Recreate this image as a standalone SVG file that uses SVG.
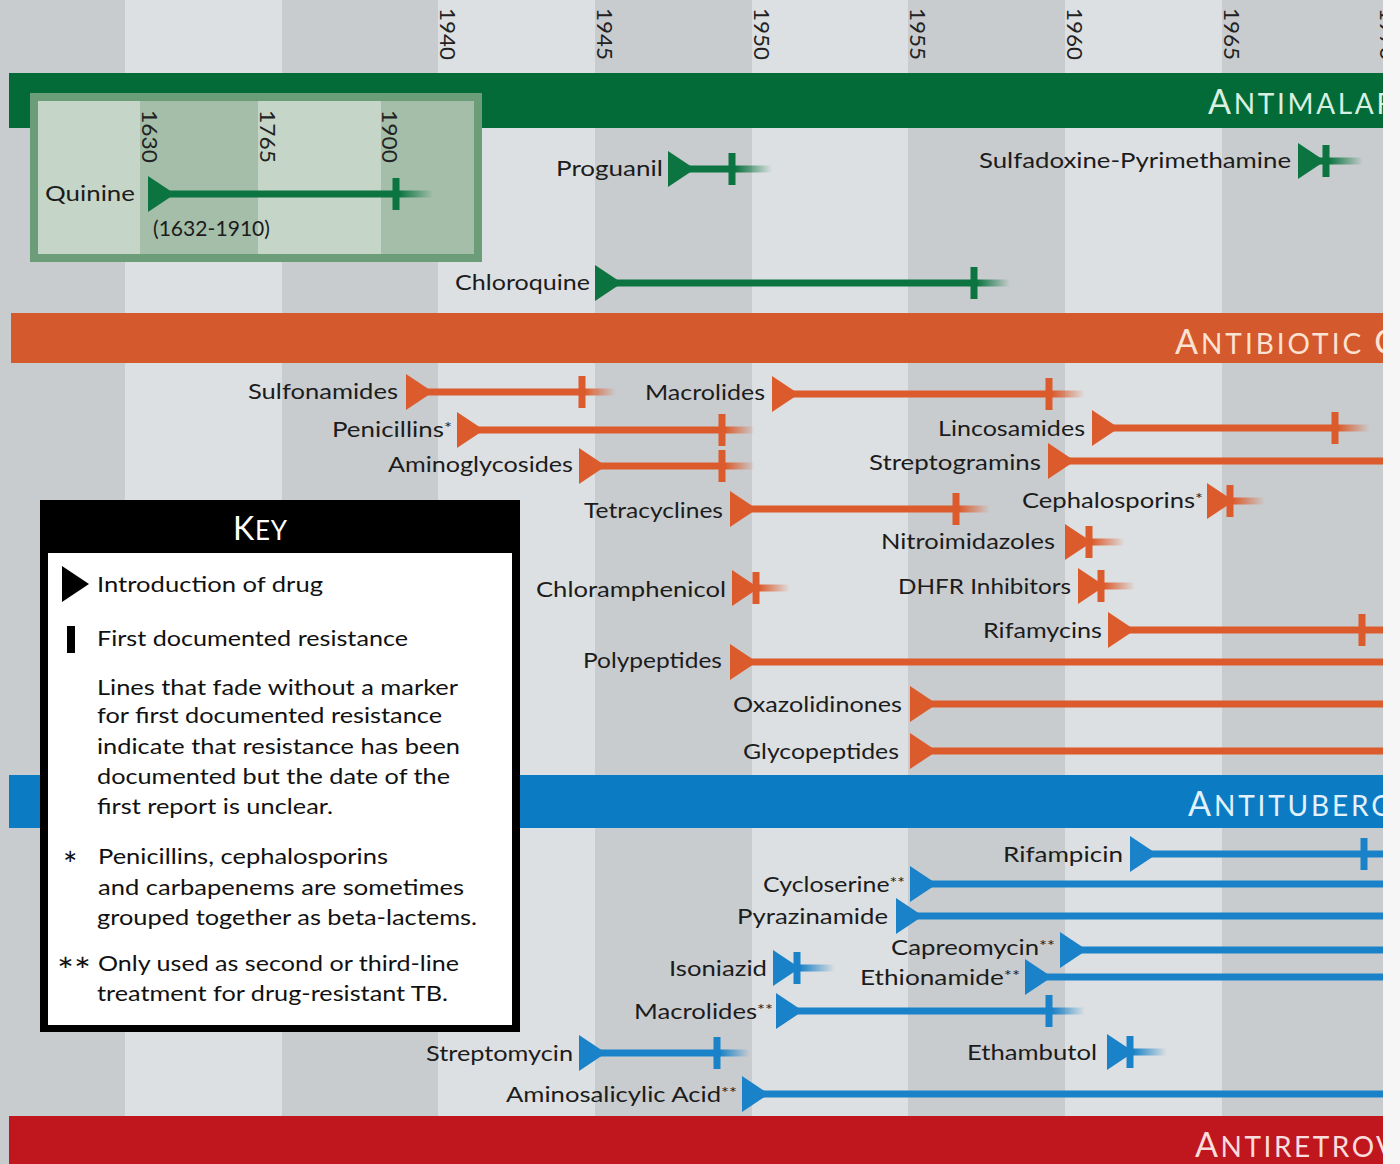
<svg xmlns="http://www.w3.org/2000/svg" xmlns:xlink="http://www.w3.org/1999/xlink" width="1400" height="1164" viewBox="0 0 1400 1164">
<style>
.lbl{font-family:Lato,"Open Sans","Liberation Sans",sans-serif;font-size:22px;fill:#1c1c1c}
.yr{font-family:Lato,"Open Sans","Liberation Sans",sans-serif;font-size:22px;fill:#222}
.ttl{font-family:Lato,"Open Sans","Liberation Sans",sans-serif;font-size:34px}
.key{font-family:Lato,"Open Sans","Liberation Sans",sans-serif;font-size:22px;fill:#111}
.ast{font-family:Lato,"Open Sans","Liberation Sans",sans-serif;font-size:34px;fill:#111}
.g{fill:#0b7440}.o{fill:#dc5b2c}.b{fill:#1a82c8}
.dk{fill:#c9cccf}.lt{fill:#dde0e2}
</style>
<defs>
<clipPath id="cl"><rect x="0" y="0" width="1383" height="1164"/></clipPath>
<path id="tri" d="M0,-18 L27,0 L0,18 Z"/>
<rect id="tick" x="-3.5" y="-16" width="7" height="32"/>
<linearGradient id="fG"><stop offset="0" stop-color="#0b7440"/><stop offset="1" stop-color="#0b7440" stop-opacity="0"/></linearGradient>
<linearGradient id="fO"><stop offset="0" stop-color="#dc5b2c"/><stop offset="1" stop-color="#dc5b2c" stop-opacity="0"/></linearGradient>
<linearGradient id="fB"><stop offset="0" stop-color="#1a82c8"/><stop offset="1" stop-color="#1a82c8" stop-opacity="0"/></linearGradient>
</defs>
<rect x="0" y="0" width="1400" height="1164" fill="#f6f6f6"/>
<g clip-path="url(#cl)">
<g id="stripes">
<rect class="dk" x="0" y="0" width="125" height="1164"/>
<rect class="lt" x="125" y="0" width="157" height="1164"/>
<rect class="dk" x="282" y="0" width="156" height="1164"/>
<rect class="lt" x="438" y="0" width="157" height="1164"/>
<rect class="dk" x="595" y="0" width="157" height="1164"/>
<rect class="lt" x="752" y="0" width="156" height="1164"/>
<rect class="dk" x="908" y="0" width="157" height="1164"/>
<rect class="lt" x="1065" y="0" width="157" height="1164"/>
<rect class="dk" x="1222" y="0" width="161" height="1164"/>
</g>
<g id="years">
<text class="yr" transform="translate(440,8) rotate(90)" textLength="52" lengthAdjust="spacingAndGlyphs">1940</text>
<text class="yr" transform="translate(597,8) rotate(90)" textLength="52" lengthAdjust="spacingAndGlyphs">1945</text>
<text class="yr" transform="translate(754,8) rotate(90)" textLength="52" lengthAdjust="spacingAndGlyphs">1950</text>
<text class="yr" transform="translate(910,8) rotate(90)" textLength="52" lengthAdjust="spacingAndGlyphs">1955</text>
<text class="yr" transform="translate(1067,8) rotate(90)" textLength="52" lengthAdjust="spacingAndGlyphs">1960</text>
<text class="yr" transform="translate(1224,8) rotate(90)" textLength="52" lengthAdjust="spacingAndGlyphs">1965</text>
<text class="yr" transform="translate(1380,8) rotate(90)" textLength="52" lengthAdjust="spacingAndGlyphs">1970</text>
</g>
<g id="band-antimalarials">
<rect x="9" y="73" width="1391" height="55" fill="#036b38"/>
<text class="ttl" x="1208" y="114" fill="#d9efe0" textLength="186" lengthAdjust="spacing">A<tspan font-size="28">NTIMALAR</tspan></text>
</g>
<g id="band-antibiotic">
<rect x="11" y="313" width="1389" height="50" fill="#d4592d"/>
<text class="ttl" x="1175" y="354" fill="#fbe2d2" textLength="222" lengthAdjust="spacing">A<tspan font-size="28">NTIBIOTIC </tspan>C</text>
</g>
<g id="band-antituberculosis">
<rect x="9" y="775" width="1391" height="53" fill="#0b7cc4"/>
<text class="ttl" x="1188" y="816" fill="#e2f1fb" textLength="202" lengthAdjust="spacing">A<tspan font-size="28">NTITUBERC</tspan></text>
</g>
<g id="band-antiretroviral">
<rect x="9" y="1116" width="1391" height="48" fill="#c0161e"/>
<text class="ttl" x="1195" y="1157" fill="#f9dcdc" textLength="200" lengthAdjust="spacing">A<tspan font-size="28">NTIRETROV</tspan></text>
</g>
<g id="quinine-inset">
<rect x="30" y="93" width="452" height="169" fill="#6b9d78"/>
<rect x="38" y="101" width="102" height="153" fill="#c5d6c9"/>
<rect x="140" y="101" width="118" height="153" fill="#a4bea9"/>
<rect x="258" y="101" width="123" height="153" fill="#c5d6c9"/>
<rect x="381" y="101" width="93" height="153" fill="#a4bea9"/>
<text class="yr" transform="translate(142,110) rotate(90)" textLength="53" lengthAdjust="spacingAndGlyphs">1630</text>
<text class="yr" transform="translate(260,110) rotate(90)" textLength="53" lengthAdjust="spacingAndGlyphs">1765</text>
<text class="yr" transform="translate(382,110) rotate(90)" textLength="53" lengthAdjust="spacingAndGlyphs">1900</text>
</g>
<g id="connectors">
<rect class="g" x="158" y="190.5" width="238" height="7"/><rect fill="url(#fG)" x="399" y="190.5" width="34" height="7"/>
<rect class="g" x="678" y="165.5" width="54" height="7"/><rect fill="url(#fG)" x="735" y="165.5" width="37" height="7"/>
<rect class="g" x="1308" y="157.5" width="18" height="7"/><rect fill="url(#fG)" x="1329" y="157.5" width="34" height="7"/>
<rect class="g" x="605" y="279.5" width="369" height="7"/><rect fill="url(#fG)" x="977" y="279.5" width="33" height="7"/>
<rect class="o" x="416" y="388.5" width="166" height="7"/><rect fill="url(#fO)" x="585" y="388.5" width="31" height="7"/>
<rect class="o" x="782" y="390.5" width="267" height="7"/><rect fill="url(#fO)" x="1052" y="390.5" width="33" height="7"/>
<rect class="o" x="467" y="426.5" width="255" height="7"/><rect fill="url(#fO)" x="725" y="426.5" width="30" height="7"/>
<rect class="o" x="1102" y="424.5" width="233" height="7"/><rect fill="url(#fO)" x="1338" y="424.5" width="32" height="7"/>
<rect class="o" x="589" y="462.5" width="133" height="7"/><rect fill="url(#fO)" x="725" y="462.5" width="30" height="7"/>
<rect class="o" x="1058" y="457.5" width="342" height="7"/>
<rect class="o" x="740" y="505.5" width="216" height="7"/><rect fill="url(#fO)" x="959" y="505.5" width="31" height="7"/>
<rect class="o" x="1217" y="497.5" width="13" height="7"/><rect fill="url(#fO)" x="1233" y="497.5" width="32" height="7"/>
<rect class="o" x="1075" y="538.5" width="14" height="7"/><rect fill="url(#fO)" x="1092" y="538.5" width="33" height="7"/>
<rect class="o" x="742" y="584.5" width="14" height="7"/><rect fill="url(#fO)" x="759" y="584.5" width="31" height="7"/>
<rect class="o" x="1088" y="582.5" width="13" height="7"/><rect fill="url(#fO)" x="1104" y="582.5" width="31" height="7"/>
<rect class="o" x="1118" y="626.5" width="282" height="7"/>
<rect class="o" x="740" y="658.5" width="660" height="7"/>
<rect class="o" x="920" y="700.5" width="480" height="7"/>
<rect class="o" x="920" y="747.5" width="480" height="7"/>
<rect class="b" x="1140" y="850.5" width="260" height="7"/>
<rect class="b" x="920" y="880.5" width="480" height="7"/>
<rect class="b" x="906" y="912.5" width="494" height="7"/>
<rect class="b" x="1070" y="946.5" width="330" height="7"/>
<rect class="b" x="783" y="964.5" width="14" height="7"/><rect fill="url(#fB)" x="800" y="964.5" width="35" height="7"/>
<rect class="b" x="1035" y="973.5" width="365" height="7"/>
<rect class="b" x="786" y="1007.5" width="263" height="7"/><rect fill="url(#fB)" x="1052" y="1007.5" width="33" height="7"/>
<rect class="b" x="589" y="1049.5" width="128" height="7"/><rect fill="url(#fB)" x="720" y="1049.5" width="30" height="7"/>
<rect class="b" x="1117" y="1048.5" width="13" height="7"/><rect fill="url(#fB)" x="1133" y="1048.5" width="34" height="7"/>
<rect class="b" x="752" y="1090.5" width="648" height="7"/>
</g>
<g id="quinine"><text class="lbl" x="45" y="201" textLength="90" lengthAdjust="spacingAndGlyphs">Quinine</text><text class="lbl" x="153" y="236" textLength="117" lengthAdjust="spacingAndGlyphs">(1632-1910)</text><use href="#tri" x="148" y="194" class="g"/><use href="#tick" x="396" y="194" class="g"/></g>
<g id="proguanil"><text class="lbl" x="663" y="176" text-anchor="end" textLength="107" lengthAdjust="spacingAndGlyphs">Proguanil</text><use href="#tri" x="668" y="169" class="g"/><use href="#tick" x="732" y="169" class="g"/></g>
<g id="sulfadoxine"><text class="lbl" x="1291" y="168" text-anchor="end" textLength="312" lengthAdjust="spacingAndGlyphs">Sulfadoxine-Pyrimethamine</text><use href="#tri" x="1298" y="161" class="g"/><use href="#tick" x="1326" y="161" class="g"/></g>
<g id="chloroquine"><text class="lbl" x="590" y="290" text-anchor="end" textLength="135" lengthAdjust="spacingAndGlyphs">Chloroquine</text><use href="#tri" x="595" y="283" class="g"/><use href="#tick" x="974" y="283" class="g"/></g>
<g id="sulfonamides"><text class="lbl" x="398" y="399" text-anchor="end" textLength="150" lengthAdjust="spacingAndGlyphs">Sulfonamides</text><use href="#tri" x="406" y="392" class="o"/><use href="#tick" x="582" y="392" class="o"/></g>
<g id="macrolides"><text class="lbl" x="765" y="400" text-anchor="end" textLength="120" lengthAdjust="spacingAndGlyphs">Macrolides</text><use href="#tri" x="772" y="394" class="o"/><use href="#tick" x="1049" y="394" class="o"/></g>
<g id="penicillins"><text class="lbl" x="452" y="437" text-anchor="end" textLength="120" lengthAdjust="spacingAndGlyphs">Penicillins<tspan font-size="16" dy="-4">*</tspan></text><use href="#tri" x="457" y="430" class="o"/><use href="#tick" x="722" y="430" class="o"/></g>
<g id="lincosamides"><text class="lbl" x="1085" y="436" text-anchor="end" textLength="147" lengthAdjust="spacingAndGlyphs">Lincosamides</text><use href="#tri" x="1092" y="428" class="o"/><use href="#tick" x="1335" y="428" class="o"/></g>
<g id="aminoglycosides"><text class="lbl" x="573" y="472" text-anchor="end" textLength="185" lengthAdjust="spacingAndGlyphs">Aminoglycosides</text><use href="#tri" x="579" y="466" class="o"/><use href="#tick" x="722" y="466" class="o"/></g>
<g id="streptogramins"><text class="lbl" x="1041" y="470" text-anchor="end" textLength="172" lengthAdjust="spacingAndGlyphs">Streptogramins</text><use href="#tri" x="1048" y="461" class="o"/></g>
<g id="tetracyclines"><text class="lbl" x="723" y="518" text-anchor="end" textLength="139" lengthAdjust="spacingAndGlyphs">Tetracyclines</text><use href="#tri" x="730" y="509" class="o"/><use href="#tick" x="956" y="509" class="o"/></g>
<g id="cephalosporins"><text class="lbl" x="1203" y="508" text-anchor="end" textLength="181" lengthAdjust="spacingAndGlyphs">Cephalosporins<tspan font-size="16" dy="-4">*</tspan></text><use href="#tri" x="1207" y="501" class="o"/><use href="#tick" x="1230" y="501" class="o"/></g>
<g id="nitroimidazoles"><text class="lbl" x="1055" y="549" text-anchor="end" textLength="174" lengthAdjust="spacingAndGlyphs">Nitroimidazoles</text><use href="#tri" x="1065" y="542" class="o"/><use href="#tick" x="1089" y="542" class="o"/></g>
<g id="chloramphenicol"><text class="lbl" x="726" y="597" text-anchor="end" textLength="190" lengthAdjust="spacingAndGlyphs">Chloramphenicol</text><use href="#tri" x="732" y="588" class="o"/><use href="#tick" x="756" y="588" class="o"/></g>
<g id="dhfr"><text class="lbl" x="1071" y="594" text-anchor="end" textLength="173" lengthAdjust="spacingAndGlyphs">DHFR Inhibitors</text><use href="#tri" x="1078" y="586" class="o"/><use href="#tick" x="1101" y="586" class="o"/></g>
<g id="rifamycins"><text class="lbl" x="1102" y="638" text-anchor="end" textLength="119" lengthAdjust="spacingAndGlyphs">Rifamycins</text><use href="#tri" x="1108" y="630" class="o"/><use href="#tick" x="1362" y="630" class="o"/></g>
<g id="polypeptides"><text class="lbl" x="722" y="668" text-anchor="end" textLength="139" lengthAdjust="spacingAndGlyphs">Polypeptides</text><use href="#tri" x="730" y="662" class="o"/></g>
<g id="oxazolidinones"><text class="lbl" x="902" y="712" text-anchor="end" textLength="169" lengthAdjust="spacingAndGlyphs">Oxazolidinones</text><use href="#tri" x="910" y="704" class="o"/></g>
<g id="glycopeptides"><text class="lbl" x="899" y="759" text-anchor="end" textLength="156" lengthAdjust="spacingAndGlyphs">Glycopeptides</text><use href="#tri" x="910" y="751" class="o"/></g>
<g id="rifampicin"><text class="lbl" x="1123" y="862" text-anchor="end" textLength="120" lengthAdjust="spacingAndGlyphs">Rifampicin</text><use href="#tri" x="1130" y="854" class="b"/><use href="#tick" x="1364" y="854" class="b"/></g>
<g id="cycloserine"><text class="lbl" x="905" y="892" text-anchor="end" textLength="142" lengthAdjust="spacingAndGlyphs">Cycloserine<tspan font-size="16" dy="-4">**</tspan></text><use href="#tri" x="910" y="884" class="b"/></g>
<g id="pyrazinamide"><text class="lbl" x="888" y="924" text-anchor="end" textLength="151" lengthAdjust="spacingAndGlyphs">Pyrazinamide</text><use href="#tri" x="896" y="916" class="b"/></g>
<g id="capreomycin"><text class="lbl" x="1055" y="955" text-anchor="end" textLength="164" lengthAdjust="spacingAndGlyphs">Capreomycin<tspan font-size="16" dy="-4">**</tspan></text><use href="#tri" x="1060" y="950" class="b"/></g>
<g id="isoniazid"><text class="lbl" x="767" y="976" text-anchor="end" textLength="98" lengthAdjust="spacingAndGlyphs">Isoniazid</text><use href="#tri" x="773" y="968" class="b"/><use href="#tick" x="797" y="968" class="b"/></g>
<g id="ethionamide"><text class="lbl" x="1020" y="985" text-anchor="end" textLength="160" lengthAdjust="spacingAndGlyphs">Ethionamide<tspan font-size="16" dy="-4">**</tspan></text><use href="#tri" x="1025" y="977" class="b"/></g>
<g id="macrolides-tb"><text class="lbl" x="773" y="1019" text-anchor="end" textLength="139" lengthAdjust="spacingAndGlyphs">Macrolides<tspan font-size="16" dy="-4">**</tspan></text><use href="#tri" x="776" y="1011" class="b"/><use href="#tick" x="1049" y="1011" class="b"/></g>
<g id="streptomycin"><text class="lbl" x="573" y="1061" text-anchor="end" textLength="147" lengthAdjust="spacingAndGlyphs">Streptomycin</text><use href="#tri" x="579" y="1053" class="b"/><use href="#tick" x="717" y="1053" class="b"/></g>
<g id="ethambutol"><text class="lbl" x="1097" y="1060" text-anchor="end" textLength="130" lengthAdjust="spacingAndGlyphs">Ethambutol</text><use href="#tri" x="1107" y="1052" class="b"/><use href="#tick" x="1130" y="1052" class="b"/></g>
<g id="aminosalicylic"><text class="lbl" x="737" y="1102" text-anchor="end" textLength="231" lengthAdjust="spacingAndGlyphs">Aminosalicylic Acid<tspan font-size="16" dy="-4">**</tspan></text><use href="#tri" x="742" y="1094" class="b"/></g>
<g id="key">
<rect x="40" y="500" width="480" height="532" fill="#000"/>
<rect x="48" y="553" width="464" height="472" fill="#fff"/>
<text x="233" y="540" fill="#fff" font-family="Lato,'Open Sans',sans-serif" font-size="32" textLength="54" lengthAdjust="spacing">K<tspan font-size="26">EY</tspan></text>
<path d="M62,566 L89,584 L62,602 Z" fill="#000"/>
<text class="key" x="97" y="592" textLength="226" lengthAdjust="spacingAndGlyphs">Introduction of drug</text>
<rect x="67" y="626" width="8" height="27" fill="#000"/>
<text class="key" x="97" y="646" textLength="311" lengthAdjust="spacingAndGlyphs">First documented resistance</text>
<text class="key" x="97" y="695" textLength="361" lengthAdjust="spacingAndGlyphs">Lines that fade without a marker</text>
<text class="key" x="97" y="723" textLength="345" lengthAdjust="spacingAndGlyphs">for first documented resistance</text>
<text class="key" x="97" y="754" textLength="363" lengthAdjust="spacingAndGlyphs">indicate that resistance has been</text>
<text class="key" x="97" y="784" textLength="353" lengthAdjust="spacingAndGlyphs">documented but the date of the</text>
<text class="key" x="97" y="814" textLength="236" lengthAdjust="spacingAndGlyphs">first report is unclear.</text>
<text class="ast" x="63" y="877">*</text>
<text class="key" x="98" y="864" textLength="290" lengthAdjust="spacingAndGlyphs">Penicillins, cephalosporins</text>
<text class="key" x="98" y="895" textLength="366" lengthAdjust="spacingAndGlyphs">and carbapenems are sometimes</text>
<text class="key" x="97" y="925" textLength="380" lengthAdjust="spacingAndGlyphs">grouped together as beta-lactems.</text>
<text class="ast" x="57" y="983" textLength="34" lengthAdjust="spacingAndGlyphs">**</text>
<text class="key" x="98" y="971" textLength="361" lengthAdjust="spacingAndGlyphs">Only used as second or third-line</text>
<text class="key" x="97" y="1001" textLength="351" lengthAdjust="spacingAndGlyphs">treatment for drug-resistant TB.</text>
</g>
</g>
</svg>
